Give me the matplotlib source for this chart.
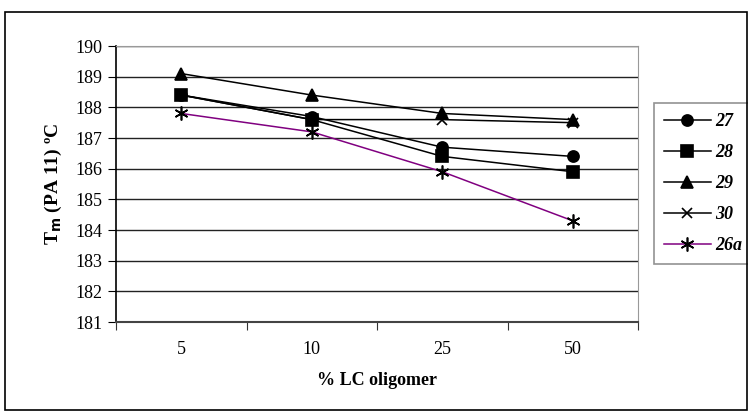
import matplotlib
matplotlib.use("Agg")
import matplotlib.pyplot as plt
from matplotlib.patches import Rectangle
import numpy as np

categories = ["5", "10", "25", "50"]
s27 = [188.4, 187.7, 186.7, 186.4]
s28 = [188.4, 187.6, 186.4, 185.9]
s29 = [189.1, 188.4, 187.8, 187.6]
s30 = [188.4, 187.6, 187.6, 187.5]
s26a = [187.8, 187.2, 185.9, 184.3]
yticks = list(range(181, 191))

plt.rcParams['font.family'] = ['Liberation Serif', 'DejaVu Serif']

fig = plt.figure(figsize=(7.48, 4.15), dpi=100)
fig.patches.append(Rectangle((5/748, 1-410/415), 742/748, (410-12)/415,
                             transform=fig.transFigure, fill=False,
                             edgecolor='black', lw=1.2))
ax = fig.add_axes([116/748, 1-322/415, (638-116)/748, (322-46)/415])

x = np.arange(len(categories))
series = [
    ("27", s27, 'o', 'black', 8),
    ("28", s28, 's', 'black', 8),
    ("29", s29, '^', 'black', 8.5),
    ("30", s30, 'x', 'black', 7),
    ("26a", s26a, (6, 2, 0), '#800080', 10),
]
for name, vals, m, c, ms in series:
    ax.plot(x, vals, color=c, lw=1.1, marker=m, markersize=ms,
            markerfacecolor='black', markeredgecolor='black', markeredgewidth=1.2,
            label=name)

ax.set_xlim(-0.5, len(categories) - 0.5)
ax.set_ylim(181, 190)
ax.set_yticks(yticks)
ax.set_yticklabels([str(v) for v in yticks], fontsize=13)
ax.yaxis.grid(True, color='#222222', lw=1)
ax.set_axisbelow(True)

ax.set_xticks(np.arange(-0.5, len(categories)), minor=False)
ax.set_xticklabels([''] * (len(categories) + 1))
ax.set_xticks(x, minor=True)
ax.set_xticklabels(categories, minor=True, fontsize=13)
ax.tick_params(axis='x', which='minor', length=0, pad=14)
ax.tick_params(axis='x', which='major', length=6, direction='out', color='#333333')
ax.tick_params(axis='y', length=6, direction='out', pad=4)

for s in ['top', 'right']:
    ax.spines[s].set_color('#999999')
ax.spines['left'].set_color('black')
ax.spines['bottom'].set_color('#444444')
ax.spines['left'].set_linewidth(1.2)
ax.spines['bottom'].set_linewidth(1.5)

ax.set_xlabel("% LC oligomer", fontsize=13, fontweight='bold', labelpad=10)
ax.set_ylabel(r"T$_\mathbf{m}$ (PA 11) ºC", fontsize=14, fontweight='bold', labelpad=8)

leg = ax.legend(loc='upper left', bbox_to_anchor=(654/748, 1-103/415),
                bbox_transform=fig.transFigure, frameon=True, fancybox=False,
                edgecolor='#777777', borderaxespad=0, handlelength=2.6,
                labelspacing=0.78, borderpad=0.55, handletextpad=0.25,
                prop={'weight': 'bold', 'style': 'italic', 'size': 13})
leg.get_frame().set_linewidth(1.2)

fig.savefig("out.png", dpi=100)
